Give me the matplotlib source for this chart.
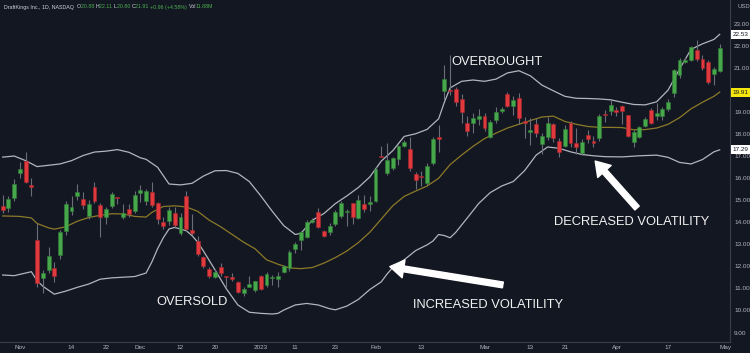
import numpy as np
import pandas as pd
import matplotlib
matplotlib.use('Agg')
import matplotlib.pyplot as plt
import matplotlib.transforms as mtransforms

plt.rcParams['font.family'] = ['Liberation Sans', 'DejaVu Sans']

# ---------------- data ----------------
holidays = ['2022-11-24', '2022-12-26', '2023-01-02', '2023-01-16', '2023-02-20', '2023-04-07']
start_date = '2022-10-27'
end_date = '2023-04-28'

opens = [14.74, 14.67, 15.12, 16.25, 16.78, 15.70, 13.20, 11.47, 11.84, 11.94,
         12.50, 13.61, 14.51, 15.18, 15.04, 14.29, 15.59, 14.77, 14.23, 14.74,
         15.13, 14.23, 14.62, 14.50, 15.33, 14.95, 15.37, 14.86, 14.03, 14.06,
         14.41, 13.50, 15.19, 13.65, 13.17, 12.44, 11.88, 11.53, 11.96, 11.56,
         11.53, 11.31, 10.78, 11.08, 10.93, 11.58, 11.15, 11.46, 11.44, 11.76,
         11.91, 12.79, 13.20, 13.32, 14.03, 14.47, 13.62, 13.58, 13.93, 14.29,
         14.46, 14.86, 14.18, 14.83, 14.82, 14.99, 17.01, 16.23, 16.45, 16.88,
         17.47, 17.31, 16.18, 16.10, 15.80, 16.68, 17.86, 19.98, 19.99, 20.04,
         19.60, 18.49, 18.49, 18.69, 18.83, 17.89, 18.64, 19.05, 19.82, 19.28,
         19.63, 18.61, 18.09, 18.45, 17.54, 17.89, 18.45, 17.69, 17.47, 18.52,
         17.59, 17.16, 17.95, 17.69, 17.81, 18.90, 19.07, 19.10, 19.29, 18.87,
         17.63, 17.89, 18.37, 19.10, 18.84, 18.84, 19.13, 19.88, 20.68, 21.28,
         21.37, 21.82, 21.40, 21.29, 20.73, 20.88]
highs = [15.24, 15.20, 15.95, 16.72, 17.21, 16.00, 13.95, 11.84, 12.87, 12.20,
         13.65, 14.98, 15.21, 15.72, 15.38, 15.01, 15.82, 14.89, 14.68, 15.39,
         15.14, 14.83, 14.83, 15.44, 15.69, 15.50, 15.81, 14.94, 14.26, 14.68,
         14.68, 14.41, 15.40, 14.38, 13.38, 12.47, 11.96, 11.87, 12.14, 11.58,
         11.71, 11.34, 11.05, 11.56, 11.35, 11.61, 11.76, 11.61, 11.76, 12.06,
         12.74, 13.12, 13.62, 14.11, 14.18, 14.64, 13.65, 13.96, 14.56, 14.98,
         14.59, 14.89, 15.24, 15.24, 15.20, 16.50, 17.47, 17.62, 16.98, 17.51,
         17.74, 17.86, 16.30, 16.35, 16.68, 17.86, 18.42, 21.14, 21.59, 20.13,
         19.82, 18.83, 18.95, 19.13, 18.98, 18.64, 19.25, 19.25, 19.90, 19.73,
         19.85, 18.77, 18.72, 18.72, 18.07, 18.80, 18.49, 17.81, 18.42, 18.61,
         18.27, 17.77, 18.19, 17.92, 18.90, 19.10, 19.55, 19.22, 19.32, 18.87,
         18.19, 18.37, 18.76, 19.17, 19.43, 19.22, 19.58, 20.94, 21.44, 21.52,
         22.00, 22.27, 21.59, 21.37, 21.06, 22.11]
lows = [14.41, 14.45, 14.98, 15.99, 15.77, 15.20, 11.08, 10.78, 11.69, 11.31,
        12.32, 13.44, 14.33, 15.01, 14.59, 14.14, 14.86, 13.32, 13.92, 14.64,
        14.83, 14.14, 14.26, 14.41, 14.94, 14.79, 14.71, 13.92, 13.68, 13.88,
        13.73, 13.42, 13.62, 13.42, 12.47, 11.91, 11.46, 11.46, 11.56, 11.05,
        11.35, 10.78, 10.66, 11.05, 10.85, 10.93, 11.05, 11.15, 11.08, 11.71,
        11.80, 12.63, 12.75, 13.28, 13.96, 13.73, 13.35, 13.43, 13.84, 14.18,
        13.84, 13.93, 14.14, 14.49, 14.53, 14.94, 16.95, 16.15, 16.38, 16.60,
        17.40, 16.35, 15.52, 15.65, 15.70, 16.60, 17.21, 19.55, 19.80, 19.28,
        18.52, 17.92, 18.04, 18.42, 18.16, 17.81, 18.49, 18.95, 19.22, 18.87,
        18.46, 17.81, 17.51, 17.89, 17.10, 17.74, 17.66, 16.98, 17.40, 17.43,
        17.10, 17.06, 17.61, 17.43, 17.71, 18.57, 18.87, 18.82, 18.46, 17.86,
        17.40, 17.81, 18.31, 18.46, 18.64, 18.64, 19.07, 19.70, 20.53, 21.25,
        21.34, 21.34, 20.91, 20.28, 20.23, 20.80]
closes = [14.54, 15.06, 15.74, 16.42, 15.85, 15.62, 11.23, 11.72, 12.47, 11.56,
          13.58, 14.83, 14.70, 15.38, 14.79, 14.83, 14.98, 14.23, 14.61, 15.29,
          15.09, 14.44, 14.38, 15.26, 15.47, 15.42, 14.77, 14.13, 13.83, 14.56,
          13.88, 14.26, 13.68, 13.50, 12.55, 12.02, 11.56, 11.76, 11.68, 11.52,
          11.44, 10.82, 10.99, 11.20, 11.32, 10.96, 11.65, 11.47, 11.56, 12.02,
          12.64, 13.02, 13.56, 14.03, 14.11, 13.81, 13.38, 13.83, 14.49, 14.86,
          14.53, 14.23, 15.02, 14.59, 14.94, 16.42, 16.97, 16.83, 16.91, 17.47,
          17.65, 16.45, 15.92, 16.06, 16.56, 17.77, 17.77, 20.50, 19.95, 19.48,
          18.99, 18.14, 18.75, 18.83, 18.27, 18.54, 19.01, 19.16, 19.29, 19.55,
          18.72, 18.52, 18.19, 18.04, 17.92, 18.49, 17.81, 17.21, 18.25, 17.59,
          17.43, 17.66, 17.77, 17.58, 18.82, 18.87, 19.32, 19.01, 19.05, 17.92,
          18.10, 18.31, 18.70, 18.49, 18.98, 19.14, 19.48, 20.91, 21.36, 21.38,
          21.97, 21.40, 20.99, 20.38, 20.95, 21.91]

# Bollinger bands (candle index, value)
upper_idx = [0, 2, 4, 6, 8, 10, 12, 14, 16, 18, 20, 22, 24, 25, 27, 29, 31, 33, 35, 37,
             39, 41, 43, 45, 47, 49, 51, 52, 54, 56, 58, 60, 62, 64, 66, 68, 70, 72, 74, 76,
             77, 78, 80, 82, 84, 86, 88, 90, 92, 94, 96, 98, 100, 102, 104, 106, 108, 110, 112, 114,
             116, 118, 120, 122, 124, 125]
upper_val = [16.96, 17.01, 16.80, 16.53, 16.59, 16.65, 16.80, 17.03, 17.19, 17.23,
             17.30, 17.18, 16.93, 16.86, 16.50, 15.74, 15.70, 15.77, 16.10, 16.34,
             16.35, 16.22, 15.85, 15.20, 14.50, 13.85, 13.45, 13.50, 14.10, 14.40,
             14.85, 15.20, 15.58, 16.06, 16.78, 17.25, 17.90, 18.02, 18.22, 18.70,
             19.45, 20.10, 20.40, 20.46, 20.40, 20.50, 20.78, 20.88, 20.65, 20.23,
             19.97, 19.72, 19.63, 19.62, 19.60, 19.56, 19.45, 19.35, 19.33, 19.47,
             20.00, 20.95, 21.85, 22.10, 22.30, 22.53]
mid_idx = [0, 3, 5, 6, 8, 9, 11, 13, 15, 17, 19, 21, 23, 25, 26, 28, 30, 32, 34, 36,
           38, 40, 42, 44, 46, 48, 50, 52, 54, 56, 58, 60, 62, 64, 66, 68, 70, 72, 74, 76,
           78, 80, 82, 84, 86, 88, 90, 92, 94, 96, 98, 100, 102, 104, 106, 108, 110, 112, 114, 116,
           118, 120, 122, 124, 125]
mid_val = [14.29, 14.27, 14.20, 13.95, 13.75, 13.69, 13.80, 14.05, 14.22, 14.32,
           14.39, 14.38, 14.27, 14.24, 14.45, 14.72, 14.75, 14.70, 14.50, 14.10,
           13.80, 13.45, 13.10, 12.80, 12.30, 12.10, 11.93, 11.90, 11.95, 12.15,
           12.40, 12.70, 13.08, 13.55, 14.15, 14.75, 15.18, 15.42, 15.65, 16.00,
           16.62, 17.05, 17.45, 17.80, 18.05, 18.28, 18.45, 18.62, 18.78, 18.82,
           18.58, 18.45, 18.35, 18.31, 18.31, 18.30, 18.20, 18.21, 18.28, 18.45,
           18.75, 19.15, 19.45, 19.72, 19.91]
lower_idx = [0, 2, 4, 5, 6, 7, 9, 11, 13, 15, 17, 19, 21, 23, 25, 26, 27, 28, 29, 30,
             32, 33, 34, 35, 37, 39, 41, 43, 45, 47, 48, 49, 51, 53, 55, 57, 58, 60, 62, 64,
             66, 67, 68, 70, 72, 74, 75, 76, 77, 78, 79, 81, 83, 85, 87, 89, 91, 93, 95, 97,
             99, 101, 103, 105, 108, 111, 114, 116, 118, 120, 122, 124, 125]
lower_val = [11.61, 11.58, 11.70, 11.76, 11.35, 11.10, 10.74, 10.88, 11.05, 11.20,
             11.42, 11.48, 11.51, 11.54, 11.70, 12.20, 12.80, 13.30, 13.70, 13.77,
             13.62, 13.40, 13.10, 12.70, 11.85, 10.98, 10.25, 9.92, 9.87, 9.84,
             9.87, 10.02, 10.25, 10.32, 10.25, 10.08, 10.03, 10.20, 10.50, 10.95,
             11.30, 11.65, 11.95, 12.30, 12.72, 12.98, 13.15, 13.45, 13.40, 13.30,
             13.55, 14.20, 14.86, 15.35, 15.65, 15.85, 16.35, 17.05, 17.42, 17.36,
             17.20, 17.08, 17.02, 16.98, 16.97, 17.02, 17.05, 16.95, 16.72, 16.65,
             16.85, 17.20, 17.29]

tick_dates = ['2022-11-01', '2022-11-14', '2022-11-22', '2022-12-01', '2022-12-12', '2022-12-20',
              '2023-01-03', '2023-01-11', '2023-01-23', '2023-02-01', '2023-02-13', '2023-03-01',
              '2023-03-13', '2023-03-21', '2023-04-03', '2023-04-17', '2023-05-01']
tick_labels = ['Nov', '14', '22', 'Dec', '12', '20', '2023', '11', '23', 'Feb', '13', 'Mar',
               '13', '21', 'Apr', '17', 'May']
price_ticks = list(range(9, 24))

# ---------------- style ----------------
BG = '#131722'
GREEN = '#46a84b'
GREEN_EDGE = '#2f7d33'
RED = '#e0393e'
RED_EDGE = '#a8262a'
WICK = '#6b6e78'
BAND = '#b2b5be'
MID = '#8c7a28'
TXT = '#b2b5be'

W, H = 750, 353
fig = plt.figure(figsize=(W / 100, H / 100), dpi=100, facecolor=BG)
ax = fig.add_axes([0, 11 / H, 730 / W, 342 / H], facecolor=BG)

o = np.array(opens); h = np.array(highs); l = np.array(lows); c = np.array(closes)
idx = np.arange(len(o))
up = c >= o

full_dates = pd.bdate_range(start_date, '2023-05-01', freq='C', holidays=holidays)
tick_pos = [full_dates.get_loc(pd.Timestamp(d)) for d in tick_dates]

# bands
ax.plot(upper_idx, upper_val, color=BAND, lw=0.9, zorder=2)
ax.plot(lower_idx, lower_val, color=BAND, lw=0.9, zorder=2)
ax.plot(mid_idx, mid_val, color=MID, lw=0.9, zorder=2)

# candles
ax.vlines(idx, l, h, color=WICK, lw=0.8, zorder=3)
bottoms = np.minimum(o, c)
heights = np.maximum(np.abs(c - o), 0.045)
ax.bar(idx, heights, bottom=bottoms, width=0.68,
       color=np.where(up, GREEN, RED), edgecolor=np.where(up, GREEN_EDGE, RED_EDGE),
       linewidth=0.4, zorder=4)

ax.set_xlim(-0.47, 126.8)
ax.set_ylim(8.57, 24.09)

for s in ['top', 'left']:
    ax.spines[s].set_visible(False)
for s in ['right', 'bottom']:
    ax.spines[s].set_color('#3a3e4a')
    ax.spines[s].set_linewidth(0.8)

ax.yaxis.tick_right()
ax.set_yticks(price_ticks)
ax.set_yticklabels([f'{v:.2f}' for v in price_ticks])
ax.tick_params(axis='y', length=0, pad=3, labelsize=4.6, labelcolor=TXT)
ax.set_xticks(tick_pos)
ax.set_xticklabels(tick_labels)
ax.tick_params(axis='x', length=0, pad=2.2, labelsize=4.6, labelcolor=TXT)

# band value labels on price axis
blend = mtransforms.blended_transform_factory(ax.transAxes, ax.transData)
for val, fc in [(upper_val[-1], '#ffffff'), (mid_val[-1], '#f5e60c'), (lower_val[-1], '#ffffff')]:
    ax.text(1.004, val, f'{val:.2f}', transform=blend, fontsize=4.6, color='#131722',
            ha='left', va='center', zorder=10, clip_on=False,
            bbox=dict(boxstyle='square,pad=0.3', fc=fc, ec='none'))

fig.text(738 / W, 1 - 6 / H, 'USD', fontsize=4.2, color=TXT, ha='left', va='center')

# annotations
tk = dict(color='#f2f2f2', fontsize=9.3, ha='left', va='baseline', zorder=12)
ax.text(78.3, 21.14, 'OVERBOUGHT', **tk)
ax.text(26.85, 10.25, 'OVERSOLD', **tk)
ax.text(71.5, 10.11, 'INCREASED VOLATILITY', **tk)
ax.text(96.1, 13.88, 'DECREASED VOLATILITY', **tk)

astyle = 'simple,head_length=1.0,head_width=1.3,tail_width=0.42'
ax.annotate('', xy=(67.5, 11.99), xytext=(87.2, 11.16),
            arrowprops=dict(arrowstyle=astyle, color='white', mutation_scale=10,
                            shrinkA=0, shrinkB=0), zorder=12)
ax.annotate('', xy=(103.3, 16.78), xytext=(110.6, 14.65),
            arrowprops=dict(arrowstyle=astyle, color='white', mutation_scale=10,
                            shrinkA=0, shrinkB=0), zorder=12)

# header line
chg = c[-1] - c[-2]
pct = chg / c[-2] * 100
VGREEN = '#4caf50'
HGRAY = '#d1d4dc'
segments = [('DraftKings Inc., 1D, NASDAQ  ', HGRAY), ('O', HGRAY), (f'{o[-1]:.2f} ', VGREEN),
            ('H', HGRAY), (f'{h[-1]:.2f} ', VGREEN), ('L', HGRAY), (f'{l[-1]:.2f} ', VGREEN),
            ('C', HGRAY), (f'{c[-1]:.2f} ', VGREEN), (f'{chg:+.2f} ({pct:+.2f}%) ', VGREEN),
            ('Vol', HGRAY), ('11.88M', VGREEN)]
fig.canvas.draw()
renderer = fig.canvas.get_renderer()
xpos = 4 / W
for txt, col in segments:
    t = fig.text(xpos, 1 - 7 / H, txt, fontsize=3.8, color=col, ha='left', va='center')
    bb = t.get_window_extent(renderer)
    xpos = bb.x1 / fig.bbox.width

fig.savefig('out.png', dpi=100, facecolor=BG)
